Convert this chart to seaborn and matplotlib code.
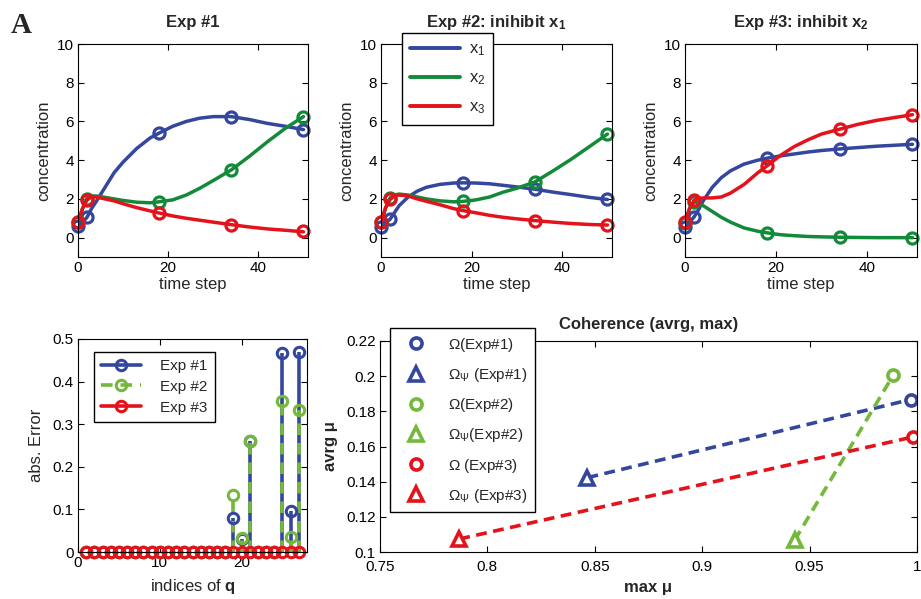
import numpy as np
import pandas as pd
import matplotlib
matplotlib.use("Agg")
import matplotlib.pyplot as plt
import seaborn as sns
from matplotlib.ticker import FormatStrFormatter
from matplotlib.lines import Line2D
from matplotlib.legend_handler import HandlerLine2D

# -----------------------------
# Plot Settings
# -----------------------------
sns.set_style("ticks")
plt.rcParams["font.family"] = ["Liberation Sans", "DejaVu Sans"]
plt.rcParams["mathtext.fontset"] = "custom"
plt.rcParams["mathtext.rm"] = "Liberation Sans"
plt.rcParams["mathtext.it"] = "Liberation Sans:italic"
plt.rcParams["mathtext.bf"] = "Liberation Sans:bold"
plt.rcParams["axes.edgecolor"] = "black"
plt.rcParams["axes.linewidth"] = 0.8
plt.rcParams["xtick.color"] = "black"
plt.rcParams["ytick.color"] = "black"
plt.rcParams["legend.fancybox"] = False
plt.rcParams["legend.edgecolor"] = "black"
plt.rcParams["legend.framealpha"] = 1

BLUE = "#35479c"
GREEN = "#138a3a"
RED = "#e3121b"
LGREEN = "#74b83c"

# -----------------------------
# Data : time courses
# -----------------------------
t_curve = [0, 1, 2, 3, 4, 6, 8, 10, 13, 16, 18, 21, 24, 27, 30, 34, 38, 42, 46, 50]
t_obs = [0, 2, 18, 34, 50]

exp1_x1 = [0.55, 0.8, 1.05, 1.5, 1.85, 2.6, 3.35, 3.9, 4.6, 5.15, 5.4, 5.75, 6.0, 6.17, 6.25, 6.25, 6.1, 5.9, 5.75, 5.58]
exp1_x2 = [0.75, 1.5, 2.05, 2.15, 2.15, 2.08, 2.0, 1.92, 1.83, 1.8, 1.85, 1.95, 2.2, 2.55, 2.95, 3.5, 4.2, 4.95, 5.65, 6.25]
exp1_x3 = [0.8, 1.5, 1.95, 2.1, 2.1, 2.0, 1.9, 1.75, 1.55, 1.38, 1.27, 1.12, 1.0, 0.9, 0.8, 0.67, 0.55, 0.45, 0.38, 0.3]

exp2_x1 = [0.55, 0.75, 0.95, 1.3, 1.65, 2.1, 2.4, 2.6, 2.75, 2.82, 2.83, 2.82, 2.78, 2.7, 2.62, 2.5, 2.35, 2.22, 2.08, 1.97]
exp2_x2 = [0.75, 1.5, 2.05, 2.2, 2.25, 2.2, 2.1, 2.0, 1.9, 1.85, 1.87, 1.95, 2.1, 2.35, 2.55, 2.88, 3.45, 4.05, 4.7, 5.35]
exp2_x3 = [0.8, 1.55, 1.97, 2.15, 2.2, 2.15, 2.0, 1.88, 1.7, 1.5, 1.4, 1.28, 1.15, 1.05, 0.97, 0.88, 0.8, 0.73, 0.68, 0.65]

exp3_x1 = [0.55, 0.8, 1.07, 1.45, 1.9, 2.6, 3.1, 3.45, 3.8, 4.0, 4.1, 4.22, 4.32, 4.42, 4.5, 4.58, 4.65, 4.72, 4.77, 4.82]
exp3_x2 = [0.75, 1.5, 1.85, 1.8, 1.65, 1.35, 1.05, 0.8, 0.5, 0.33, 0.25, 0.15, 0.1, 0.06, 0.04, 0.02, 0.01, 0.0, 0.0, 0.0]
exp3_x3 = [0.8, 1.5, 1.93, 2.02, 2.05, 2.05, 2.1, 2.3, 2.75, 3.35, 3.7, 4.25, 4.7, 5.05, 5.35, 5.6, 5.85, 6.05, 6.2, 6.35]

obs1_x1 = [0.6, 1.05, 5.4, 6.25, 5.58]
obs1_x2 = [0.8, 2.02, 1.85, 3.5, 6.25]
obs1_x3 = [0.8, 1.93, 1.25, 0.67, 0.32]
obs2_x1 = [0.55, 0.95, 2.83, 2.5, 1.97]
obs2_x2 = [0.8, 2.05, 1.88, 2.88, 5.35]
obs2_x3 = [0.8, 1.97, 1.4, 0.88, 0.65]
obs3_x1 = [0.55, 1.07, 4.1, 4.6, 4.82]
obs3_x2 = [0.75, 1.85, 0.25, 0.02, 0.0]
obs3_x3 = [0.8, 1.93, 3.7, 5.6, 6.35]

titles = ["Exp #1", r"Exp #2: inihibit $\mathbf{x_1}$", r"Exp #3: inhibit $\mathbf{x_2}$"]
species = [r"$\mathregular{x_1}$", r"$\mathregular{x_2}$", r"$\mathregular{x_3}$"]

# -----------------------------
# Data : abs. error per index of q
# -----------------------------
q_idx = list(range(1, 28))
err_exp1 = [0]*18 + [0.08, 0.03, 0.26, 0, 0, 0, 0.467, 0.096, 0.47]
err_exp2 = [0]*18 + [0.133, 0.033, 0.26, 0, 0, 0, 0.354, 0.036, 0.333]
err_exp3 = [0]*27

# -----------------------------
# Data : coherence
# -----------------------------
exp_names = ["Exp#1", "Exp#2", "Exp#3"]
max_mu_omega = [0.997, 0.989, 0.998]
avg_mu_omega = [0.1867, 0.2007, 0.1654]
max_mu_psi = [0.8466, 0.943, 0.7869]
avg_mu_psi = [0.1423, 0.1066, 0.1074]
omega_labels = [r"$\Omega$(Exp#1)", r"$\Omega$(Exp#2)", r"$\Omega$ (Exp#3)"]
psi_labels = [r"$\Omega_\Psi$ (Exp#1)", r"$\Omega_\Psi$(Exp#2)", r"$\Omega_\Psi$ (Exp#3)"]

FS = 11

fig = plt.figure(figsize=(9.21, 5.99), dpi=100)


def matlab_box(ax):
    ax.tick_params(direction="in", top=True, right=True, labelsize=FS,
                   length=4, width=0.8, pad=3)


# legend line with the marker only at its right end (MATLAB stem legend)
class EndMarkerHandler(HandlerLine2D):
    def get_xdata(self, legend, xdescent, ydescent, width, height, fontsize):
        return [-xdescent, -xdescent + width], [-xdescent + width]


# ==========================================================
# TOP ROW : time courses
# ==========================================================
top_lefts = [78, 381, 685]
top_widths = [230, 231, 232]
curves = [
    [exp1_x1, exp1_x2, exp1_x3],
    [exp2_x1, exp2_x2, exp2_x3],
    [exp3_x1, exp3_x2, exp3_x3],
]
obs = [
    [obs1_x1, obs1_x2, obs1_x3],
    [obs2_x1, obs2_x2, obs2_x3],
    [obs3_x1, obs3_x2, obs3_x3],
]
colors = [BLUE, GREEN, RED]

top_axes = []
for i in range(3):
    ax = fig.add_axes([top_lefts[i]/921, (599-257)/599, top_widths[i]/921, 213/599])
    for vals, pts, c in zip(curves[i], obs[i], colors):
        sns.lineplot(x=t_curve, y=vals, ax=ax, color=c, lw=2.5, sort=False, estimator=None)
        sns.lineplot(x=t_obs, y=pts, ax=ax, color=c, ls="none", marker="o", ms=8,
                     mfc="none", mec=c, mew=2.3, sort=False, estimator=None, clip_on=False)
    ax.set_xlim(0, 51)
    ax.set_ylim(-1, 10)
    ax.set_xticks([0, 20, 40])
    ax.set_yticks([0, 2, 4, 6, 8, 10])
    ax.set_xlabel("time step", fontsize=FS+1, labelpad=1)
    ax.set_ylabel("concentration", fontsize=FS+1, labelpad=4)
    ax.set_title(titles[i], fontsize=FS+1, fontweight="bold", pad=12)
    matlab_box(ax)
    top_axes.append(ax)

handles = [Line2D([0], [0], color=c, lw=2.8) for c in colors]
top_axes[1].legend(handles, species, loc="upper left",
                   bbox_to_anchor=(402/921, 1-33/599), bbox_transform=fig.transFigure,
                   borderaxespad=0, fontsize=FS+1, handlelength=3.0, labelspacing=0.75,
                   borderpad=0.5, handletextpad=0.5)

# ==========================================================
# BOTTOM LEFT : abs. error stems
# ==========================================================
ax4 = fig.add_axes([78/921, (599-552)/599, 229/921, 213/599])
ax4.vlines(q_idx, 0, err_exp1, color=BLUE, lw=2.6)
ax4.vlines(q_idx, 0, err_exp2, color=LGREEN, lw=2.6, linestyles=(0, (3.2, 2.2)))
for errs, c in zip([err_exp1, err_exp2, err_exp3], [BLUE, LGREEN, RED]):
    sns.lineplot(x=q_idx, y=errs, ax=ax4, color=c, ls="none", marker="o", ms=7.5,
                 mfc="none", mec=c, mew=2.2, sort=False, estimator=None, clip_on=False)
ax4.set_xlim(0, 28)
ax4.set_ylim(0, 0.5)
ax4.set_xticks([0, 10, 20])
ax4.set_yticks([0, 0.1, 0.2, 0.3, 0.4, 0.5])
ax4.yaxis.set_major_formatter(FormatStrFormatter("%g"))
ax4.set_xlabel(r"indices of $\mathbf{q}$", fontsize=FS+1, labelpad=5)
ax4.set_ylabel("abs. Error", fontsize=FS+1, labelpad=6)
matlab_box(ax4)

stem_handles = [
    Line2D([0], [0], color=BLUE, lw=2.6, marker="o", ms=7.5, mfc="none", mew=2.2),
    Line2D([0], [0], color=LGREEN, lw=2.6, ls=(0, (3.2, 2.2)), marker="o", ms=7.5, mfc="none", mew=2.2),
    Line2D([0], [0], color=RED, lw=2.6, marker="o", ms=7.5, mfc="none", mew=2.2),
]
ax4.legend(stem_handles, ["Exp #1", "Exp #2", "Exp #3"], loc="upper left",
           bbox_to_anchor=(94/921, 1-352/599), bbox_transform=fig.transFigure,
           borderaxespad=0, fontsize=FS, handlelength=2.6, labelspacing=0.45,
           borderpad=0.45, handletextpad=1.3,
           handler_map={Line2D: EndMarkerHandler()})

# ==========================================================
# BOTTOM RIGHT : coherence
# ==========================================================
ax5 = fig.add_axes([380/921, (599-552)/599, 537/921, 211/599])
coh_colors = [BLUE, LGREEN, RED]
leg_handles = []
leg_labels = []
for k in range(3):
    c = coh_colors[k]
    sns.lineplot(x=[max_mu_psi[k], max_mu_omega[k]], y=[avg_mu_psi[k], avg_mu_omega[k]],
                 ax=ax5, color=c, lw=2.6, ls=(0, (3.0, 1.8)), sort=False, estimator=None)
    sns.lineplot(x=[max_mu_omega[k]], y=[avg_mu_omega[k]], ax=ax5, color=c, ls="none",
                 marker="o", ms=8, mfc="white", mec=c, mew=2.6, estimator=None)
    sns.lineplot(x=[max_mu_psi[k]], y=[avg_mu_psi[k]], ax=ax5, color=c, ls="none",
                 marker="^", ms=10, mfc="white", mec=c, mew=2.6, estimator=None, clip_on=False)
    leg_handles.append(Line2D([0], [0], ls="none", marker="o", ms=8, mfc="white", mec=c, mew=2.6))
    leg_handles.append(Line2D([0], [0], ls="none", marker="^", ms=10, mfc="white", mec=c, mew=2.6))
    leg_labels.append(omega_labels[k])
    leg_labels.append(psi_labels[k])

ax5.set_xlim(0.75, 1.0)
ax5.set_ylim(0.1, 0.22)
ax5.set_xticks([0.75, 0.8, 0.85, 0.9, 0.95, 1.0])
ax5.set_yticks([0.1, 0.12, 0.14, 0.16, 0.18, 0.2, 0.22])
ax5.xaxis.set_major_formatter(FormatStrFormatter("%g"))
ax5.yaxis.set_major_formatter(FormatStrFormatter("%g"))
ax5.set_xlabel("max μ", fontsize=FS+1, fontweight="bold", labelpad=4)
ax5.set_ylabel("avrg μ", fontsize=FS+1, fontweight="bold", labelpad=6)
ax5.set_title("Coherence (avrg, max)", fontsize=FS+1, fontweight="bold", pad=9)
matlab_box(ax5)
ax5.tick_params(axis="x", pad=6)
ax5.legend(leg_handles, leg_labels, loc="upper left",
           bbox_to_anchor=(390/921, 1-328/599), bbox_transform=fig.transFigure,
           borderaxespad=0, fontsize=FS, handlelength=2.4, labelspacing=0.8,
           borderpad=0.5, handletextpad=0.9, numpoints=1)

fig.text(0.012, 0.958, "A", fontsize=21, fontweight="bold", family="Liberation Serif",
         ha="left", va="center")

fig.savefig("out.png", dpi=100)
